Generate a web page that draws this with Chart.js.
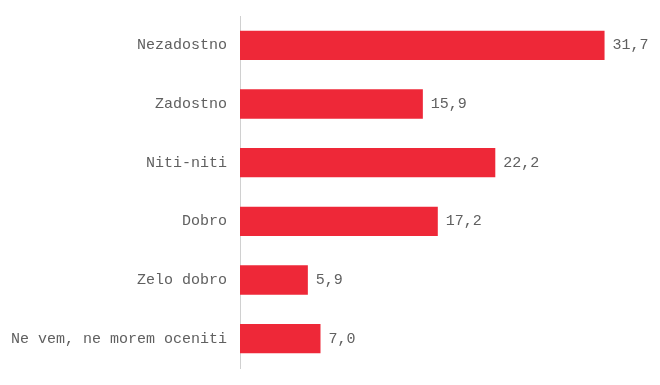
<!DOCTYPE html>
<html><head><meta charset="utf-8">
<script src="https://cdn.jsdelivr.net/npm/chart.js@4"></script>
<style>html,body{margin:0;padding:0;background:#fff}#wrap{width:660px;height:385px}</style>
</head><body><div id="wrap"><canvas id="c"></canvas></div>
<script>
const categories = ["Nezadostno","Zadostno","Niti-niti","Dobro","Zelo dobro","Ne vem, ne morem oceniti"];
const values = [31.7,15.9,22.2,17.2,5.9,7.0];

const valueLabels = {
  id:'valueLabels',
  afterDatasetsDraw(chart){
    const ctx = chart.ctx;
    const meta = chart.getDatasetMeta(0);
    ctx.save();
    ctx.font = '15px "Liberation Mono"';
    ctx.fillStyle = '#606060';
    ctx.textAlign = 'left';
    ctx.textBaseline = 'middle';
    meta.data.forEach((bar,i)=>{
      ctx.fillText(values[i].toFixed(1).replace('.',','), bar.x + 8, bar.y);
    });
    ctx.restore();
  }
};

new Chart(document.getElementById('c'), {
  type:'bar',
  data:{labels:categories, datasets:[{data:values, backgroundColor:'#EE2838', borderWidth:0, barPercentage:0.5, categoryPercentage:1}]},
  options:{
    indexAxis:'y', responsive:true, maintainAspectRatio:false, animation:false,
    layout:{padding:{top:16,bottom:17,right:6,left:0}},
    plugins:{legend:{display:false}, tooltip:{enabled:false}},
    scales:{
      x:{display:false, min:0, max:36},
      y:{
        afterFit(s){ s.width = 240; s.paddingTop = 0; s.paddingBottom = 0; },
        grid:{display:false, drawTicks:false},
        border:{display:true, color:'#d0d0d0', width:1},
        ticks:{padding:13, color:'#606060', font:{family:'"Liberation Mono"', size:15}}
      }
    }
  },
  plugins:[valueLabels]
});
</script></body></html>
